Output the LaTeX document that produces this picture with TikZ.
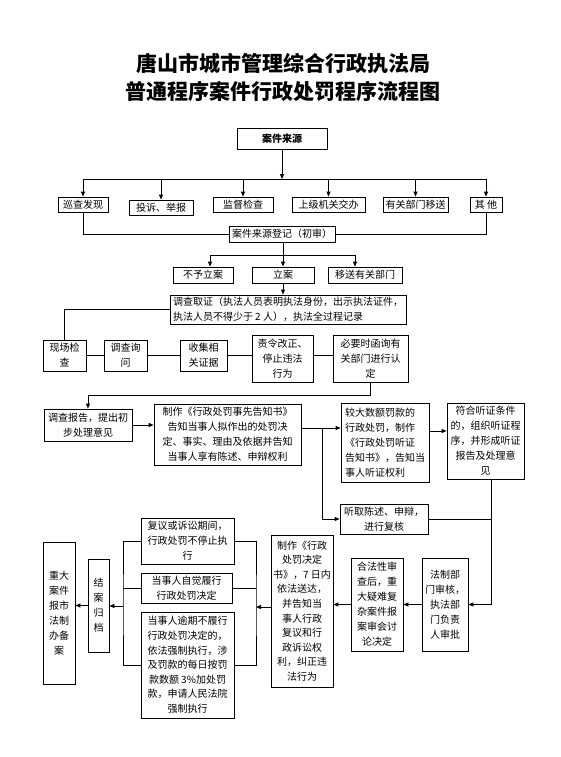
\documentclass[tikz,border=0pt]{standalone}
\usepackage{fontspec}
\setmainfont{Noto Sans CJK SC}
\usetikzlibrary{arrows.meta}

\tikzset{
  boite/.style={draw, line width=0.8pt, inner sep=2pt, align=center,
    font=\fontsize{10}{15}\selectfont},
  fleche/.style={-{Triangle[length=5pt,width=4pt]}},
}

\begin{document}
\begin{tikzpicture}[x=1pt, y=-1pt, line width=0.8pt]
\useasboundingbox (0,0) rectangle (560,757);

% Titre
\node[font=\bfseries\fontsize{21}{28}\selectfont, align=center] (titre) at (283,77)
  {唐山市城市管理综合行政执法局\\普通程序案件行政处罚程序流程图};

% Sources
\node[boite, font=\bfseries\fontsize{10}{15}\selectfont, minimum width=90, minimum height=21] (source) at (282,138.5) {案件来源};
\node[boite, minimum width=50, minimum height=15] (xuncha) at (83,204.5) {巡查发现};
\node[boite, minimum width=64, minimum height=15] (tousu) at (161,207.5) {投诉、举报};
\node[boite, minimum width=60, minimum height=15] (jiandu) at (243,204.5) {监督检查};
\node[boite, minimum width=73, minimum height=15] (shangji) at (328.5,204.5) {上级机关交办};
\node[boite, minimum width=65, minimum height=15] (yiguan) at (415.5,204.5) {有关部门移送};
\node[boite, minimum width=32, minimum height=15] (qita) at (486,204.5) {其\ 他};
\node[boite, minimum width=106, minimum height=16] (dengji) at (282,234) {案件来源登记（初审）};

\coordinate (bus) at (282,179);
\draw[fleche] (source) -- (bus);
\draw (xuncha.north |- bus) -- (qita.north |- bus);
\foreach \n in {xuncha,tousu,jiandu,shangji,yiguan,qita}
  \draw[fleche] (\n.north |- bus) -- (\n.north);
\draw (xuncha.south) |- (dengji.west);
\draw (qita.south) |- (dengji.east);

% Instruction
\node[boite, minimum width=60, minimum height=16] (buyu) at (203,275) {不予立案};
\node[boite, minimum width=62, minimum height=16] (lian) at (283,275) {立案};
\node[boite, minimum width=74, minimum height=16] (yisong) at (365,275) {移送有关部门};

\coordinate (bus2) at (283,255);
\coordinate (b2g) at (210,255);
\coordinate (b2d) at (355,255);
\draw (dengji.south -| bus2) -- (bus2);
\draw (b2g) -- (b2d);
\draw[fleche] (b2g) -- (b2g |- buyu.north);
\draw[fleche] (bus2) -- (lian.north);
\draw[fleche] (b2d) -- (b2d |- yisong.north);

\node[boite, align=left, minimum width=236, minimum height=29] (quzheng) at (288,309.5)
  {调查取证（执法人员表明执法身份，出示执法证件，\\执法人员不得少于 2 人），执法全过程记录};
\draw[fleche] (lian.south) -- (lian.south |- quzheng.north);

\node[boite, minimum width=43, minimum height=31] (xianchang) at (64.5,355.5) {现场检\\查};
\node[boite, minimum width=43, minimum height=31] (xunwen) at (125.5,355.5) {调查询\\问};
\node[boite, minimum width=47, minimum height=31] (shouji) at (203.5,355.5) {收集相\\关证据};
\node[boite, minimum width=61, minimum height=47] (zeling) at (282.5,358.5) {责令改正、\\停止违法\\行为};
\node[boite, minimum width=75, minimum height=47] (hanxun) at (370.5,358.5) {必要时函询有\\关部门进行认\\定};

\draw (quzheng.west) -| (xianchang.north);
\draw (xianchang.east) -- (xunwen.west);
\draw (xunwen.east) -- (shouji.west);
\draw (shouji.east) -- (shouji.east -| zeling.west);
\draw (zeling.east |- shouji.east) -- (shouji.east -| hanxun.west);

% Decision
\node[boite, minimum width=88, minimum height=32] (baogao) at (88,425) {调查报告，提出初\\步处理意见};
\node[boite, minimum width=147, minimum height=61] (gaozhi) at (227.5,434.5)
  {制作《行政处罚事先告知书》\\告知当事人拟作出的处罚决\\定、事实、理由及依据并告知\\当事人享有陈述、申辩权利};
\node[boite, align=left, minimum width=88, minimum height=79] (jiaoda) at (385,442.5)
  {较大数额罚款的\\行政处罚，制作\\《行政处罚听证\\告知书》，告知当\\事人听证权利};
\node[boite, minimum width=77, minimum height=76] (tingzheng) at (485.5,441)
  {符合听证条件\\的，组织听证程\\序，并形成听证\\报告及处理意\\见};
\node[boite, minimum width=88, minimum height=30] (tingqu) at (384,519) {听取陈述、申辩，\\进行复核};

\coordinate (c1) at (88,395);
\draw[fleche] (hanxun.south) |- (c1) -- (baogao.north);
\draw[fleche] (baogao.east) -- (baogao.east -| gaozhi.west);

\coordinate (br) at (322,428);
\draw (gaozhi.east |- br) -- (br);
\draw[fleche] (br) -- (jiaoda.west |- br);
\draw[fleche] (br) |- (tingqu.west);
\coordinate (hA) at (435,431);
\draw[fleche] (jiaoda.east |- hA) -- (tingzheng.west |- hA);

% Execution
\node[boite, minimum width=46, minimum height=93] (fazhi) at (445,604.5)
  {法制部\\门审核，\\执法部\\门负责\\人审批};
\node[boite, minimum width=52, minimum height=93] (hefa) at (377,604.5)
  {合法性审\\查后，重\\大疑难复\\杂案件报\\案审会讨\\论决定};
\node[boite, font=\fontsize{10}{14.6}\selectfont, minimum width=60, minimum height=152] (jueding) at (302,611)
  {制作《行政\\处罚决定\\书》，7 日内\\依法送达，\\并告知当\\事人行政\\复议和行\\政诉讼权\\利，纠正违\\法行为};

\coordinate (fv) at (491,605);
\draw[fleche] (tingzheng.south -| fv) |- (fazhi.east);
\draw (tingqu.east) -- (tingqu.east -| fv);
\draw[fleche] (fazhi.west) -- (fazhi.west -| hefa.east);
\draw[fleche] (hefa.west) -- (hefa.west -| jueding.east);

\node[boite, minimum width=93, minimum height=46] (fuyi) at (187.5,541)
  {复议或诉讼期间，\\行政处罚不停止执\\行};
\node[boite, minimum width=91, minimum height=30] (zijue) at (186.5,588)
  {当事人自觉履行\\行政处罚决定};
\node[boite, font=\fontsize{10}{14.6}\selectfont, minimum width=93, minimum height=106] (yuqi) at (187.5,665)
  {当事人逾期不履行\\行政处罚决定的，\\依法强制执行，涉\\及罚款的每日按罚\\款数额 3\%加处罚\\款，申请人民法院\\强制执行};

\coordinate (rb) at (256,607);
\draw[fleche] (jueding.west |- rb) -- (rb);
\draw (fuyi.east) -| (rb) |- (yuqi.east);
\draw (zijue.east) -- (zijue.east -| rb);

% Archivage
\node[boite, minimum width=21, minimum height=93] (jiean) at (98.5,605.5) {结\\案\\归\\档};
\node[boite, minimum width=32, minimum height=142] (beian) at (59,613)
  {重大\\案件\\报市\\法制\\办备\\案};

\coordinate (lb) at (123,606);
\draw (fuyi.west) -| (lb) |- (yuqi.west);
\draw (zijue.west) -- (zijue.west -| lb);
\draw[fleche] (lb) -- (lb -| jiean.east);
\draw[fleche] (jiean.west) -- (jiean.west -| beian.east);

\end{tikzpicture}
\end{document}
